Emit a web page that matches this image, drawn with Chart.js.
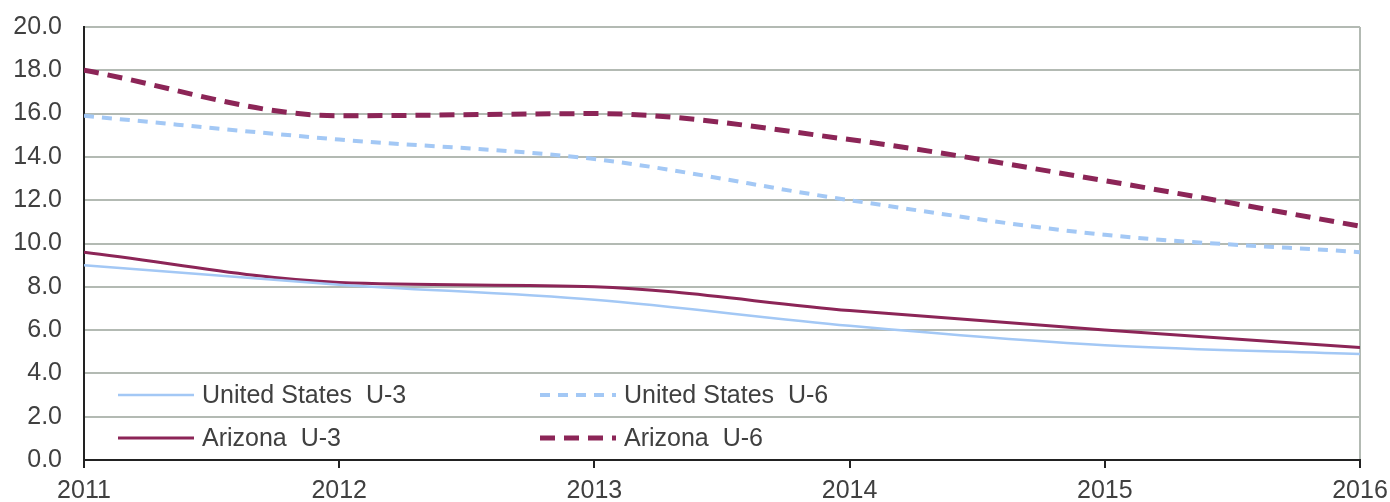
<!DOCTYPE html>
<html>
<head>
<meta charset="utf-8">
<script src="https://cdn.jsdelivr.net/npm/chart.js@4"></script>
<style>
  body { margin: 0; background: #fff; }
  #wrap { width: 1390px; height: 502px; }
</style>
</head>
<body>
<div id="wrap"><canvas id="myChart" width="1390" height="502"></canvas></div>
<script>
const years = [2011, 2012, 2013, 2014, 2015, 2016];
const usU3 = [9.0, 8.1, 7.4, 6.2, 5.3, 4.9];
const usU6 = [15.9, 14.8, 13.9, 12.0, 10.4, 9.6];
const azU3 = [9.6, 8.2, 8.0, 6.9, 6.0, 5.2];
const azU6 = [18.0, 15.9, 16.0, 14.8, 12.9, 10.8];
const yTicks = [0, 2, 4, 6, 8, 10, 12, 14, 16, 18, 20];

const blue = "#a3c8f5";
const maroon = "#8c2557";
const gridGray = "#b3bab3";
const fontFam = "'Liberation Sans', Arial, sans-serif";

const pts = (vals) => vals.map((v, i) => ({ x: years[i], y: v }));

// legend drawn inside the plot area, two columns
const insideLegend = {
	id: "insideLegend",
	afterDraw(chart) {
		const c = chart.ctx;
		const area = chart.chartArea;
		const spots = [
			[area.left + 34, area.top + 368],
			[area.left + 456, area.top + 368],
			[area.left + 34, area.top + 411],
			[area.left + 456, area.top + 411],
		];
		chart.data.datasets.forEach((ds, i) => {
			const [x, y] = spots[i];
			c.save();
			c.strokeStyle = ds.borderColor;
			c.lineWidth = ds.borderWidth;
			c.setLineDash(ds.borderDash || []);
			c.beginPath();
			c.moveTo(x, y);
			c.lineTo(x + 76, y);
			c.stroke();
			c.setLineDash([]);
			c.fillStyle = "#404040";
			c.font = "25px " + fontFam;
			c.textBaseline = "middle";
			c.fillText(ds.label, x + 84, y + 1);
			c.restore();
		});
	},
};

const ctx = document.getElementById("myChart");

const myChart = new Chart(ctx, {
	type: "line",
	data: {
		datasets: [
			{
				label: "United States  U-3",
				data: pts(usU3),
				borderColor: blue,
				borderWidth: 2.5,
				pointRadius: 0,
				cubicInterpolationMode: "monotone",
			},
			{
				label: "United States  U-6",
				data: pts(usU6),
				borderColor: blue,
				borderWidth: 4,
				borderDash: [10, 8],
				pointRadius: 0,
				cubicInterpolationMode: "monotone",
			},
			{
				label: "Arizona  U-3",
				data: pts(azU3),
				borderColor: maroon,
				borderWidth: 3,
				pointRadius: 0,
				cubicInterpolationMode: "monotone",
			},
			{
				label: "Arizona  U-6",
				data: pts(azU6),
				borderColor: maroon,
				borderWidth: 5,
				borderDash: [15, 9],
				pointRadius: 0,
				cubicInterpolationMode: "monotone",
			},
		],
	},
	options: {
		responsive: false,
		animation: false,
		layout: { padding: { top: 27, right: 30, left: 0, bottom: 0 } },
		plugins: {
			legend: { display: false },
			tooltip: { enabled: false },
		},
		scales: {
			x: {
				type: "linear",
				min: 2011,
				max: 2016,
				afterFit: (s) => {
					s.height = 42;
					s.paddingLeft = 0;
					s.paddingRight = 0;
				},
				afterBuildTicks: (s) => { s.ticks = years.map((v) => ({ value: v })); },
				ticks: {
					color: "#404040",
					font: { family: fontFam, size: 25 },
					padding: 8,
					maxRotation: 0,
					callback: (v) => String(v),
				},
				grid: {
					color: (c) => (c.index === years.length - 1 ? gridGray : "transparent"),
					tickColor: "#222",
					tickLength: 8,
					lineWidth: 2,
				},
				border: { color: "#222", width: 2 },
			},
			y: {
				min: 0,
				max: 20,
				afterFit: (s) => {
					s.width = 84;
					s.paddingTop = 0;
					s.paddingBottom = 0;
				},
				afterBuildTicks: (s) => { s.ticks = yTicks.map((v) => ({ value: v })); },
				ticks: {
					color: "#404040",
					font: { family: fontFam, size: 25 },
					padding: 22,
					callback: (v) => v.toFixed(1),
				},
				grid: {
					color: gridGray,
					lineWidth: 2,
					drawTicks: false,
				},
				border: { color: "#222", width: 2 },
			},
		},
	},
	plugins: [insideLegend],
});
</script>
</body>
</html>
